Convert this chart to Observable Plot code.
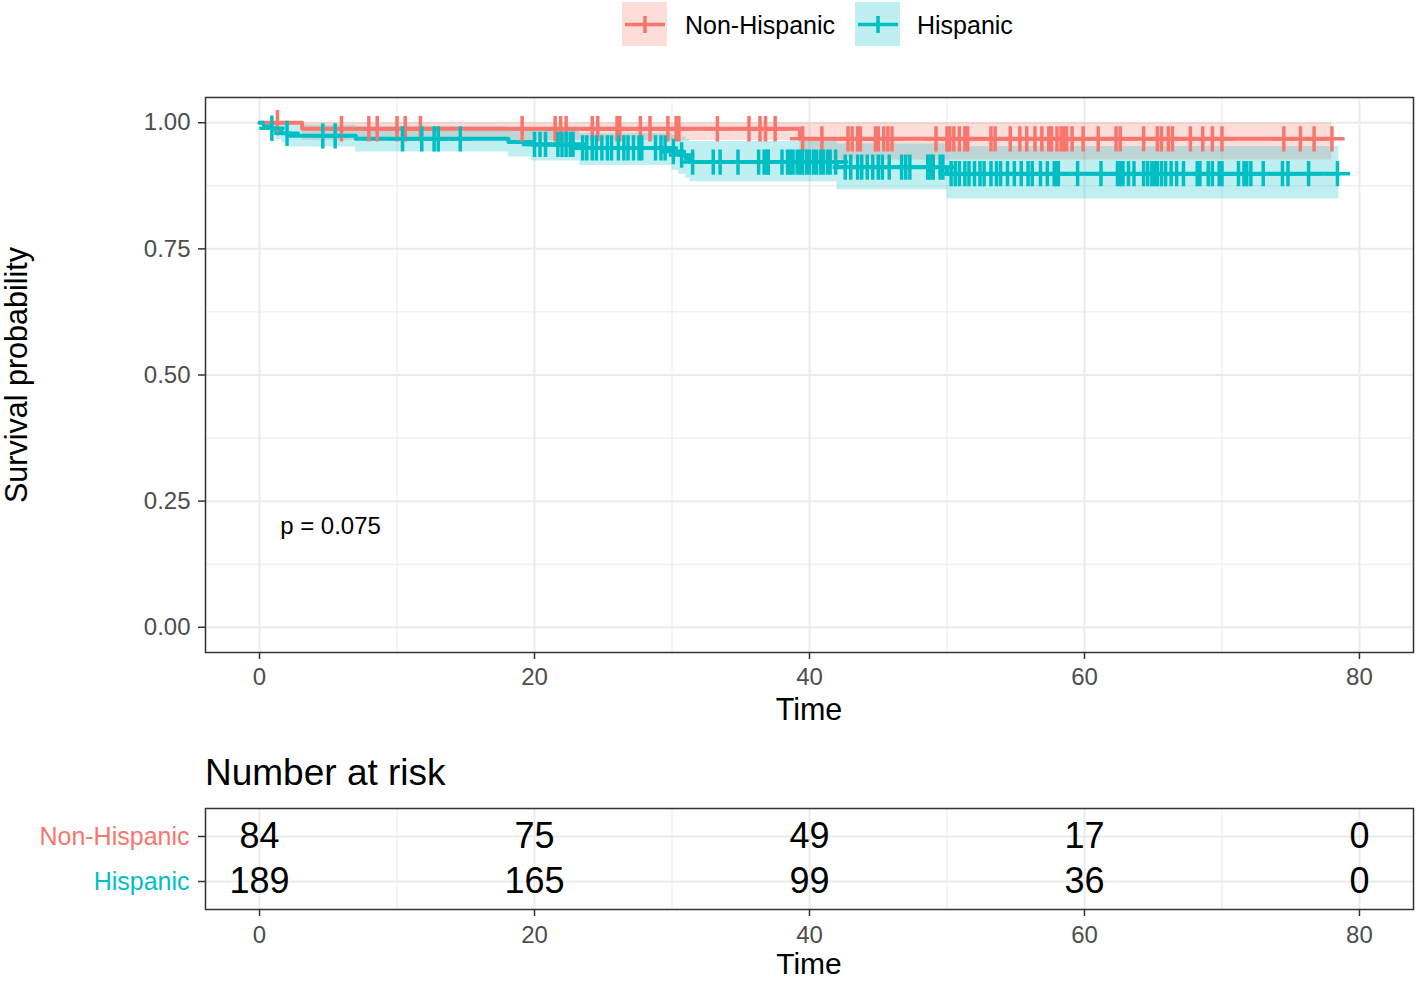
<!DOCTYPE html>
<html><head><meta charset="utf-8">
<script src="https://cdn.jsdelivr.net/npm/d3@7"></script>
<script src="https://cdn.jsdelivr.net/npm/@observablehq/plot@0.6"></script>
<style>
body{margin:0;background:#fff;font-family:"Liberation Sans",Arial,Helvetica,sans-serif;}
#root{position:relative;width:1417px;height:981px;overflow:hidden;background:#fff;}
#root svg{position:absolute;left:0;}
.lab{position:absolute;white-space:nowrap;line-height:1;color:#000;}
.c{transform:translate(-50%,-50%);}
</style></head><body><div id="root"></div>
<script>
// ---------- data ----------
const groups = ["Non-Hispanic", "Hispanic"];
const groupColors = ["#F8766D", "#00BFC4"];

// Non-Hispanic Kaplan-Meier steps
const nhStepTimes = [0, 3.1, 39.3];
const nhSurv      = [1, 0.988, 0.968];
const nhLower     = [1, 0.965, 0.926];
const nhUpper     = [1, 1, 1];
const nhEnd = 78.0;
const nhCensor = [1.3, 5.96, 7.95, 8.56, 10.0, 10.6, 11.7, 19.1, 21.5, 21.9, 22.3, 24.2, 24.6, 26.0, 26.2, 27.7, 28.4, 29.7, 30.3, 30.5, 33.3, 35.6, 36.4, 36.8, 37.5, 39.5, 40.9, 42.8, 43.1, 43.5, 43.7, 44.8, 45.0, 45.4, 45.7, 46.0, 49.2, 50.0, 50.2, 50.5, 50.9, 51.3, 51.5, 53.2, 53.5, 54.6, 55.3, 55.8, 56.4, 56.9, 57.4, 57.6, 58.0, 58.3, 58.5, 58.7, 59.1, 59.9, 61.0, 62.3, 62.6, 64.3, 65.3, 65.6, 66.1, 66.4, 67.7, 68.6, 69.3, 70.0, 74.5, 75.7, 76.7, 78.0];

// Hispanic Kaplan-Meier steps
const hStepTimes = [0, 0.3, 0.8, 1.2, 1.6, 2.2, 7.0, 18.1, 19.8, 23.3, 30.0, 30.5, 31.0, 31.3, 42.0, 50.0];
const hSurv      = [1, 0.995, 0.989, 0.984, 0.979, 0.974, 0.968, 0.962, 0.957, 0.950, 0.943, 0.936, 0.929, 0.922, 0.912, 0.899];
const hLower     = [1, 0.985, 0.975, 0.967, 0.960, 0.952, 0.942, 0.932, 0.924, 0.915, 0.906, 0.898, 0.890, 0.883, 0.867, 0.849];
const hUpper     = [1, 1, 1, 1, 0.998, 0.995, 0.992, 0.988, 0.984, 0.978, 0.975, 0.971, 0.967, 0.963, 0.958, 0.953];
const hEnd = 78.5;
const hCensor = [0.9, 2.0, 4.6, 5.5, 10.4, 11.8, 12.7, 13.0, 14.6, 20.0, 20.4, 20.8, 21.7, 22.0, 22.3, 22.6, 22.8, 23.5, 23.8, 24.2, 24.5, 24.9, 25.3, 25.6, 26.1, 26.5, 26.8, 27.2, 27.6, 27.8, 28.8, 29.2, 29.5, 30.1, 30.7, 31.5, 33.0, 33.5, 34.8, 36.3, 36.7, 36.9, 37.0, 38.0, 38.4, 38.6, 38.8, 39.1, 39.3, 39.5, 39.8, 40.0, 40.3, 40.5, 40.8, 41.0, 41.3, 41.5, 41.9, 42.6, 43.0, 43.5, 43.8, 44.2, 44.6, 45.0, 45.3, 45.8, 46.7, 47.0, 47.3, 48.6, 48.8, 49.0, 49.5, 49.7, 50.3, 50.6, 50.9, 51.3, 51.6, 52.0, 52.4, 52.7, 53.2, 53.6, 53.9, 54.4, 54.9, 55.4, 55.9, 56.2, 56.8, 57.3, 57.8, 58.0, 58.1, 59.5, 61.2, 62.4, 62.6, 62.8, 63.2, 63.6, 64.3, 64.6, 64.9, 65.1, 65.3, 65.6, 65.9, 66.3, 66.7, 67.2, 68.2, 68.4, 69.0, 69.3, 69.8, 70.0, 71.2, 71.6, 71.8, 72.1, 73.0, 74.4, 74.8, 76.3, 78.4];

const pValueText = "p = 0.075";
const pValueTime = 1.5;
const pValueSurv = 0.2;

const xTicks = [0, 20, 40, 60, 80];
const xMinor = [10, 30, 50, 70];
const yTicks = [0, 0.25, 0.5, 0.75, 1];
const yMinor = [0.125, 0.375, 0.625, 0.875];

const riskTimes = [0, 20, 40, 60, 80];
const nhRisk = [84, 75, 49, 17, 0];
const hRisk = [189, 165, 99, 36, 0];

// ---------- build tables ----------
function stepTable(times, surv, lo, hi, end) {
  const rows = times.map((t, i) => ({t, s: surv[i], lo: lo[i], hi: hi[i]}));
  const last = rows[rows.length - 1];
  rows.push({t: end, s: last.s, lo: last.lo, hi: last.hi});
  return rows;
}
function survAt(times, surv, t) {
  let v = surv[0];
  for (let i = 0; i < times.length; i++) if (times[i] <= t) v = surv[i];
  return v;
}
const nhSteps = stepTable(nhStepTimes, nhSurv, nhLower, nhUpper, nhEnd);
const hSteps = stepTable(hStepTimes, hSurv, hLower, hUpper, hEnd);
const nhMarks = nhCensor.map(t => ({t, s: survAt(nhStepTimes, nhSurv, t)}));
const hMarks = hCensor.map(t => ({t, s: survAt(hStepTimes, hSurv, t)}));

const FONT = '"Liberation Sans", Arial, Helvetica, sans-serif';
const BAND_OPACITY = 0.25;
const xDomain = [-3.93, 83.93];
const root = document.getElementById("root");

// ---------- main survival plot ----------
const main = Plot.plot({
  width: 1417, height: 740,
  marginTop: 97, marginBottom: 88, marginLeft: 205, marginRight: 4,
  x: {domain: xDomain},
  y: {domain: [-0.05, 1.05]},
  style: {fontFamily: FONT, fontSize: "24px", background: "transparent", color: "#000", overflow: "visible"},
  marks: [
    Plot.gridX(xMinor, {stroke: "#EBEBEB", strokeOpacity: 1, strokeWidth: 1}),
    Plot.gridY(yMinor, {stroke: "#EBEBEB", strokeOpacity: 1, strokeWidth: 1}),
    Plot.gridX(xTicks, {stroke: "#EBEBEB", strokeOpacity: 1, strokeWidth: 2}),
    Plot.gridY(yTicks, {stroke: "#EBEBEB", strokeOpacity: 1, strokeWidth: 2}),
    Plot.areaY(nhSteps, {x: "t", y1: "lo", y2: "hi", curve: "step-after", fill: groupColors[0], fillOpacity: BAND_OPACITY}),
    Plot.areaY(hSteps, {x: "t", y1: "lo", y2: "hi", curve: "step-after", fill: groupColors[1], fillOpacity: BAND_OPACITY}),
    Plot.line(nhSteps, {x: "t", y: "s", curve: "step-after", stroke: groupColors[0], strokeWidth: 4}),
    Plot.line(hSteps, {x: "t", y: "s", curve: "step-after", stroke: groupColors[1], strokeWidth: 4}),
    Plot.dot(nhMarks, {x: "t", y: "s", symbol: "plus", r: 8.2, stroke: groupColors[0], strokeWidth: 3.5, fill: "none"}),
    Plot.dot(hMarks, {x: "t", y: "s", symbol: "plus", r: 8.2, stroke: groupColors[1], strokeWidth: 3.5, fill: "none"}),
    Plot.text([pValueText], {x: pValueTime, y: pValueSurv, text: d => d, textAnchor: "start", fontSize: 24, fill: "#000"}),
    Plot.axisX({ticks: xTicks, tickSize: 7, tickPadding: 8, stroke: "#333", fill: "#4D4D4D", strokeWidth: 1.5, label: null}),
    Plot.axisY({ticks: yTicks, tickSize: 7, tickPadding: 8, tickFormat: d => d.toFixed(2), stroke: "#333", fill: "#4D4D4D", strokeWidth: 1.5, label: null}),
    Plot.frame({stroke: "#333", strokeWidth: 1.5})
  ]
});
main.style.top = "0px";
root.appendChild(main);

// ---------- risk table ----------
const riskRows = [];
riskTimes.forEach((t, i) => {
  riskRows.push({t, g: groups[0], n: nhRisk[i]});
  riskRows.push({t, g: groups[1], n: hRisk[i]});
});
const table = Plot.plot({
  width: 1417, height: 241,
  marginTop: 68, marginBottom: 72, marginLeft: 205, marginRight: 4,
  x: {domain: xDomain},
  y: {type: "point", domain: groups, padding: 0.6},
  style: {fontFamily: FONT, fontSize: "24px", background: "transparent", color: "#000", overflow: "visible"},
  marks: [
    Plot.gridX(xMinor, {stroke: "#EBEBEB", strokeOpacity: 1, strokeWidth: 1}),
    Plot.gridX(xTicks, {stroke: "#EBEBEB", strokeOpacity: 1, strokeWidth: 2}),
    Plot.gridY(groups, {stroke: "#EBEBEB", strokeOpacity: 1, strokeWidth: 2}),
    Plot.text(riskRows, {x: "t", y: "g", text: d => String(d.n), fontSize: 36, fill: "#000"}),
    ...groups.map((g, i) => Plot.text([g], {y: d => d, text: d => d, frameAnchor: "left", textAnchor: "end", dx: -16, fontSize: 25, fill: groupColors[i]})),
    Plot.axisX({ticks: xTicks, tickSize: 7, tickPadding: 9, stroke: "#333", fill: "#4D4D4D", strokeWidth: 1.5, label: null}),
    Plot.axisY({tickSize: 7, tickFormat: () => "", stroke: "#333", strokeWidth: 1.5, label: null}),
    Plot.frame({stroke: "#333", strokeWidth: 1.5})
  ]
});
table.style.top = "740px";
root.appendChild(table);

// ---------- text labels & legend ----------
function addLabel(text, css, cls) {
  const d = document.createElement("div");
  d.className = "lab " + (cls || "");
  d.textContent = text;
  Object.assign(d.style, css);
  root.appendChild(d);
  return d;
}
addLabel("Time", {left: "809px", top: "709px", fontSize: "30.5px"}, "c");
addLabel("Time", {left: "809px", top: "964px", fontSize: "30px"}, "c");
addLabel("Survival probability", {left: "16px", top: "375px", fontSize: "30.5px", transform: "translate(-50%,-50%) rotate(-90deg)"});
addLabel("Number at risk", {left: "205px", top: "772px", fontSize: "37px", transform: "translateY(-50%)"});

const legendPos = [{key: 622, label: 685}, {key: 855, label: 917}];
groups.forEach((g, i) => {
  const ns = "http://www.w3.org/2000/svg";
  const svg = document.createElementNS(ns, "svg");
  svg.setAttribute("width", 45); svg.setAttribute("height", 44);
  svg.style.left = legendPos[i].key + "px"; svg.style.top = "2px";
  const rect = document.createElementNS(ns, "rect");
  rect.setAttribute("width", 45); rect.setAttribute("height", 44);
  rect.setAttribute("fill", groupColors[i]); rect.setAttribute("fill-opacity", BAND_OPACITY);
  svg.appendChild(rect);
  const path = document.createElementNS(ns, "path");
  path.setAttribute("d", "M3,22.5H43M23,14V31");
  path.setAttribute("stroke", groupColors[i]); path.setAttribute("stroke-width", 3.6); path.setAttribute("fill", "none");
  svg.appendChild(path);
  root.appendChild(svg);
  addLabel(g, {left: legendPos[i].label + "px", top: "25px", fontSize: "25px", transform: "translateY(-50%)"});
});
</script>
</body></html>
